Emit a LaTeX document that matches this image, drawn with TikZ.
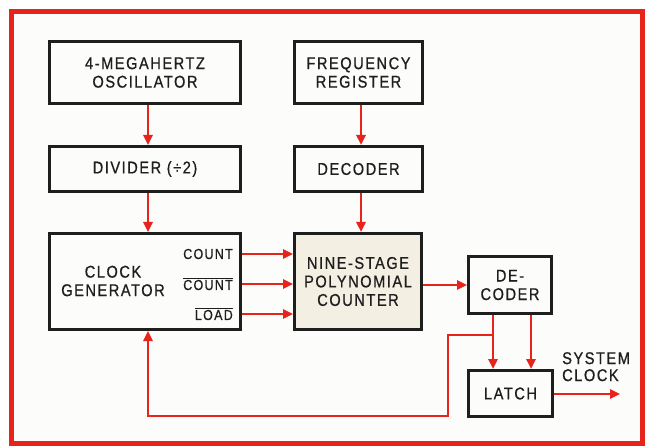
\documentclass[tikz,border=0pt]{standalone}
\usepackage{fontspec}
\setmainfont{Liberation Sans}
\newfontfamily\labfont{Liberation Sans}[FakeStretch=0.86,FakeBold=0.7,LetterSpace=9]
\usetikzlibrary{arrows.meta}
\definecolor{fr}{HTML}{E8231C}
\definecolor{ink}{HTML}{1E1E1E}
\definecolor{beige}{HTML}{F3EFE2}
\definecolor{paper}{HTML}{FCFCFA}
\begin{document}
\begin{tikzpicture}[x=1pt,y=-1pt,
  blk/.style={draw=ink,line width=3pt,inner sep=0pt,align=center,text=ink,
    font=\labfont\fontsize{17}{18.5}\selectfont},
  lbl/.style={inner sep=0pt,text=ink,font=\labfont\fontsize{14.5}{17}\selectfont},
  arr/.style={draw=fr,line width=2.4pt,-{Triangle[length=10pt,width=9pt]}},
  wire/.style={draw=fr,line width=2.4pt}]
\useasboundingbox (0,0) rectangle (650,446);
\fill[white] (0,0) rectangle (650,446);
\fill[paper] (11,12) rectangle (642,443);
\draw[fr,line width=5pt] (11,12) rectangle (642,443);
% blocks
\node[blk,minimum width=191pt,minimum height=62pt] (osc) at (145,72.5) {4-MEGAHERTZ\\OSCILLATOR};
\node[blk,minimum width=128pt,minimum height=62pt] (freq) at (358.5,72.5) {FREQUENCY\\REGISTER};
\node[blk,minimum width=191pt,minimum height=45pt] (div) at (145,169) {DIVIDER (÷2)};
\node[blk,minimum width=128pt,minimum height=45pt] (dec) at (358.5,169) {DECODER};
\node[blk,minimum width=191pt,minimum height=96pt] (clk) at (145,281.5) {};
\node[blk,fill=beige,minimum width=127pt,minimum height=96pt] (nine) at (358,281.5) {NINE-STAGE\\POLYNOMIAL\\COUNTER};
\node[blk,minimum width=83pt,minimum height=57pt] (dec2) at (510,285) {DE-\\CODER};
\node[blk,minimum width=84pt,minimum height=46pt] (latch) at (510.5,393.5) {LATCH};
% labels in clock generator
\node[lbl,align=center,font=\labfont\fontsize{17}{18.5}\selectfont] (cgt) at (113,281) {CLOCK\\GENERATOR};
\node[lbl,anchor=east] (c1) at (233,254) {COUNT};
\node[lbl,anchor=east] (c2) at (233,284) {$\overline{\mbox{COUNT}}$};
\node[lbl,anchor=east] (c3) at (233,314) {$\overline{\mbox{LOAD}}$};
\node[lbl,align=left,anchor=north west,font=\labfont\fontsize{17}{17}\selectfont] (sys) at (562,352) {SYSTEM\\CLOCK};
% coordinates
\coordinate (a1) at (148,0);
\coordinate (a2) at (361,0);
\coordinate (b1) at (493,0);
\coordinate (b2) at (531,0);
\coordinate (br) at (493,335);
\coordinate (fbA) at (448,335);
\coordinate (fbB) at (448,416);
\coordinate (fbC) at (148,416);
\coordinate (out) at (620,394);
% connectors
\draw[arr] (osc.south -| a1) -- (div.north -| a1);
\draw[arr] (div.south -| a1) -- (clk.north -| a1);
\draw[arr] (freq.south -| a2) -- (dec.north -| a2);
\draw[arr] (dec.south -| a2) -- (nine.north -| a2);
\draw[arr] (clk.east |- c1) -- (nine.west |- c1);
\draw[arr] (clk.east |- c2) -- (nine.west |- c2);
\draw[arr] (clk.east |- c3) -- (nine.west |- c3);
\draw[arr] (nine.east |- dec2) -- (dec2.west);
\draw[arr] (dec2.south -| b1) -- (latch.north -| b1);
\draw[arr] (dec2.south -| b2) -- (latch.north -| b2);
\draw[arr] (br) -- (fbA) -- (fbB) -- (fbC) -- (clk.south -| fbC);
\draw[arr] (latch.east |- out) -- (out);
\end{tikzpicture}
\end{document}
